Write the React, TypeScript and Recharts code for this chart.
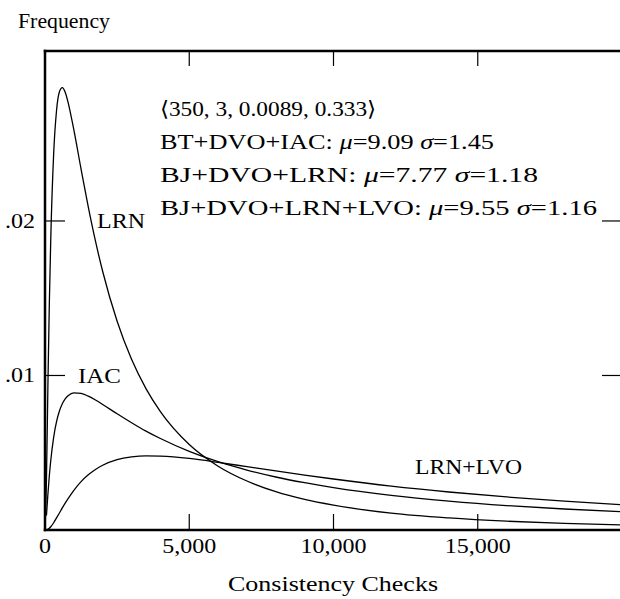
import React from 'react';
import { LineChart, Line, XAxis, YAxis, Customized } from 'recharts';

// Consistency checks (x) and frequency values
const checks = [0, 50, 100, 150, 200, 300, 400, 500, 600, 700, 800, 1000, 1250, 1500, 1750, 2000, 2500, 3000, 3500, 4000, 5000, 6000, 7000, 8000, 9000, 10000, 12000, 14000, 16000, 18000, 20000];
const lrn = [0, 0.00323, 0.00927, 0.01464, 0.01885, 0.02433, 0.02715, 0.02836, 0.02863, 0.02833, 0.02768, 0.02589, 0.02336, 0.02091, 0.01869, 0.01673, 0.01351, 0.01105, 0.00915, 0.00766, 0.00553, 0.00413, 0.00317, 0.00248, 0.00198, 0.00161, 0.00109, 0.00078, 0.00057, 0.00043, 0.00033];
const iac = [null, 0.00094, 0.0023, 0.00351, 0.0045, 0.006, 0.00701, 0.0077, 0.00817, 0.00849, 0.00869, 0.00887, 0.00884, 0.00866, 0.00841, 0.00812, 0.00752, 0.00694, 0.0064, 0.00592, 0.00509, 0.00442, 0.00388, 0.00343, 0.00306, 0.00274, 0.00224, 0.00187, 0.00158, 0.00136, 0.00118];
const lrnLvo = [0, 0.000005, 0.00004, 0.00011, 0.00021, 0.00047, 0.00078, 0.0011, 0.00143, 0.00174, 0.00203, 0.00257, 0.00313, 0.00357, 0.00392, 0.00419, 0.00455, 0.00473, 0.0048, 0.00478, 0.00463, 0.00438, 0.0041, 0.00382, 0.00355, 0.0033, 0.00284, 0.00246, 0.00214, 0.00187, 0.00164];

const xTicks = [0, 5000, 10000, 15000];
const yTicks = [0.01, 0.02];
const xDomain = [0, 20000];
const yDomain = [0, 0.031];

const curveLabels = ['LRN', 'IAC', 'LRN+LVO'];
const yTitle = 'Frequency';
const xTitle = 'Consistency Checks';
const headerLine = '\u27e8350, 3, 0.0089, 0.333\u27e9';
const statNames = ['BT+DVO+IAC:', 'BJ+DVO+LRN:', 'BJ+DVO+LRN+LVO:'];
const statMu = ['9.09', '7.77', '9.55'];
const statSigma = ['1.45', '1.18', '1.16'];

const data = checks.map((c, i) => ({ checks: c, lrn: lrn[i], iac: iac[i], lrnLvo: lrnLvo[i] }));

const FONT = '"Liberation Serif", "Times New Roman", serif';
const FS = 21;
const textW = (s: string) =>
  s.replace(/[^0-9]/g, '').length * 12 + s.replace(/[0-9]/g, '').length * 6;

const BottomTick = (props: any) => {
  const { x, y, payload } = props;
  const s = Number(payload.value).toLocaleString('en-US');
  return (
    <g>
      <line x1={x} x2={x} y1={y} y2={y - 16} stroke="#000" strokeWidth={1.2} />
      <text x={x} y={y + 23} textAnchor="middle" fontFamily={FONT} fontSize={FS} fill="#000"
        textLength={textW(s)} lengthAdjust="spacingAndGlyphs">{s}</text>
    </g>
  );
};

const TopTick = (props: any) => {
  const { x, y } = props;
  return <line x1={x} x2={x} y1={y} y2={y + 15} stroke="#000" strokeWidth={1.2} />;
};

const LeftTick = (props: any) => {
  const { x, y, payload } = props;
  const s = Number(payload.value).toFixed(2).replace(/^0/, '');
  return (
    <g>
      <line x1={x} x2={x + 20} y1={y} y2={y} stroke="#000" strokeWidth={1.2} />
      <text x={x - 10} y={y + 7} textAnchor="end" fontFamily={FONT} fontSize={FS} fill="#000"
        textLength={textW(s)} lengthAdjust="spacingAndGlyphs">{s}</text>
    </g>
  );
};

const RightTick = (props: any) => {
  const { x, y } = props;
  return <line x1={x} x2={x - 20} y1={y} y2={y} stroke="#000" strokeWidth={1.2} />;
};

const T = ({ x, y, w, anchor = 'start', children }: any) => (
  <text x={x} y={y} textAnchor={anchor} fontFamily={FONT} fontSize={FS} fill="#000"
    textLength={w} lengthAdjust="spacingAndGlyphs">{children}</text>
);

const Annotations = () => (
  <g>
    <T x={18} y={28} w={92}>{yTitle}</T>
    <T x={333} y={591} w={210} anchor="middle">{xTitle}</T>
    <T x={160} y={116} w={216}>{headerLine}</T>
    {statNames.map((n, i) => (
      <T key={n} x={160} y={149 + i * 33} w={[334, 378, 437][i]}>
        {n} <tspan fontStyle="italic">{'\u03bc'}</tspan>={statMu[i]} <tspan fontStyle="italic">{'\u03c3'}</tspan>={statSigma[i]}
      </T>
    ))}
    <T x={97} y={228} w={48}>{curveLabels[0]}</T>
    <T x={78} y={383} w={43}>{curveLabels[1]}</T>
    <T x={415} y={474} w={107}>{curveLabels[2]}</T>
  </g>
);

const axisLine = { stroke: '#000', strokeWidth: 2.5, strokeLinecap: 'square' } as any;

export default function App() {
  return (
    <div style={{ position: 'absolute', left: 0, top: 0, width: 620, height: 599, overflow: 'hidden', background: '#fff' }}>
      <LineChart width={640} height={599} data={data} margin={{ top: 50, right: 17, bottom: 0, left: 0 }}>
        <XAxis dataKey="checks" type="number" domain={xDomain} ticks={xTicks} allowDataOverflow
          height={69} tickSize={0} tickMargin={0} tickLine={false} axisLine={axisLine} tick={BottomTick} interval={0} />
        <XAxis xAxisId="top" dataKey="checks" orientation="top" type="number" domain={xDomain} ticks={xTicks} allowDataOverflow
          height={1} tickSize={0} tickMargin={0} tickLine={false} axisLine={axisLine} tick={TopTick} interval={0} />
        <YAxis type="number" domain={yDomain} ticks={yTicks} allowDataOverflow width={45}
          tickSize={0} tickMargin={0} tickLine={false} axisLine={axisLine} tick={LeftTick} interval={0} />
        <YAxis yAxisId="right" orientation="right" type="number" domain={yDomain} ticks={yTicks} allowDataOverflow width={1}
          tickSize={0} tickMargin={0} tickLine={false} axisLine={axisLine} tick={RightTick} interval={0} />
        <Line type="monotone" dataKey="lrn" stroke="#000" strokeWidth={1.3} dot={false} isAnimationActive={false} />
        <Line type="monotone" dataKey="iac" stroke="#000" strokeWidth={1.3} dot={false} isAnimationActive={false} />
        <Line type="monotone" dataKey="lrnLvo" stroke="#000" strokeWidth={1.3} dot={false} isAnimationActive={false} />
        <Line xAxisId="top" yAxisId="right" type="monotone" dataKey="lrn" stroke="none" strokeWidth={0} dot={false} activeDot={false} isAnimationActive={false} />
        <Customized component={Annotations} />
      </LineChart>
    </div>
  );
}
